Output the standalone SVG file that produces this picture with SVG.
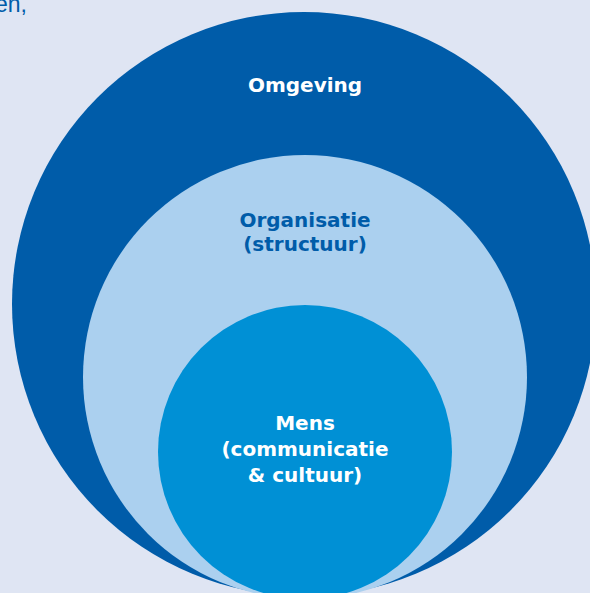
<svg xmlns="http://www.w3.org/2000/svg" width="590" height="593" viewBox="0 0 590 593">
<style>
.lbl{font-family:"DejaVu Sans","Liberation Sans",sans-serif;font-weight:bold;font-size:20px;text-anchor:middle}
.w{fill:#ffffff}
.b{fill:#005ca9}
</style>
<rect x="0" y="0" width="590" height="593" fill="#dfe5f3"/>
<text x="-5" y="12" font-family="Liberation Sans, sans-serif" font-size="23" fill="#005ca9">en,</text>
<g id="omgeving">
<circle cx="304" cy="304" r="292" fill="#005ca9"/>
<text class="lbl w" x="305" y="92">Omgeving</text>
</g>
<g id="organisatie">
<circle cx="305" cy="377" r="222" fill="#abd0ef"/>
<text class="lbl b" x="305" y="227">Organisatie</text>
<text class="lbl b" x="305" y="251">(structuur)</text>
</g>
<g id="mens">
<circle cx="305" cy="452" r="147" fill="#0090d5"/>
<text class="lbl w" x="305" y="430">Mens</text>
<text class="lbl w" x="305" y="456">(communicatie</text>
<text class="lbl w" x="305" y="482">&amp; cultuur)</text>
</g>
<g id="connectors"/>
</svg>
